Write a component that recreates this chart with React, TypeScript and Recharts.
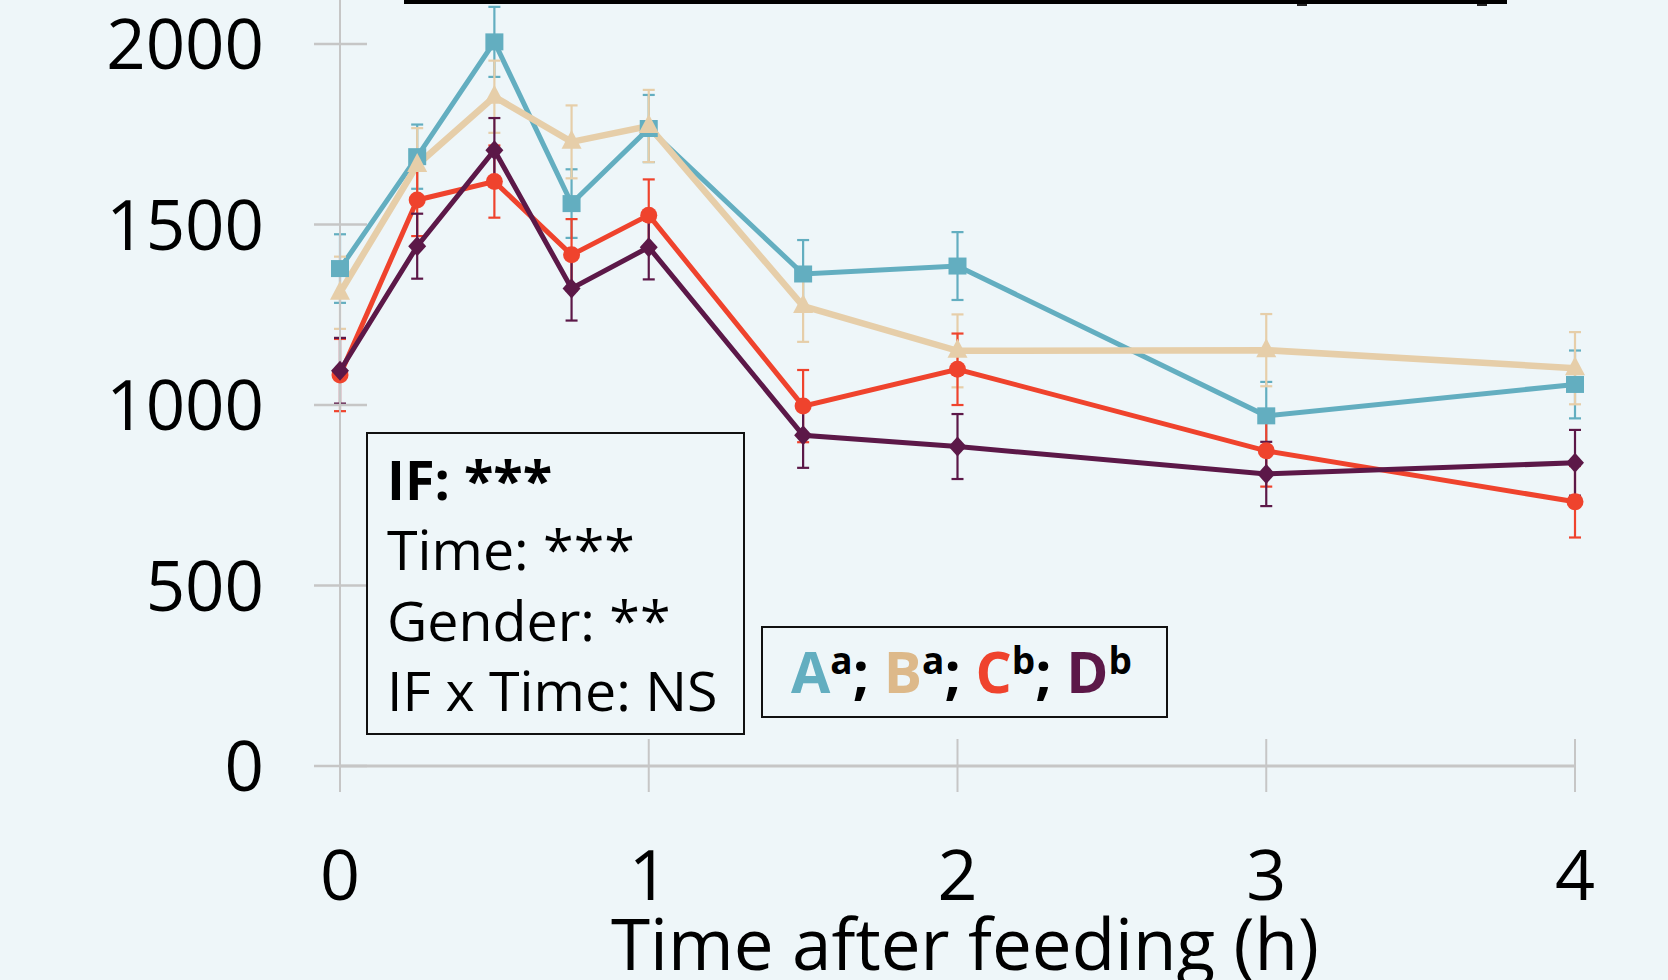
import React from 'react';
import { LineChart, Line, XAxis, YAxis, ErrorBar } from 'recharts';

// sampling times (h) and group means / SEM
const times = [0, 0.25, 0.5, 0.75, 1, 1.5, 2, 3, 4];
const groupA = [1378, 1688, 2006, 1558, 1766, 1363, 1385, 970, 1057];
const groupB = [1311, 1665, 1854, 1729, 1773, 1274, 1150, 1152, 1102];
const groupC = [1083, 1568, 1619, 1416, 1526, 997, 1099, 873, 732];
const groupD = [1095, 1440, 1706, 1323, 1437, 916, 885, 809, 840];
const errA = [95, 89, 97, 95, 93, 94, 94, 94, 94];
const errB = [100, 102, 100, 101, 100, 99, 101, 100, 100];
const errC = [100, 100, 100, 99, 99, 100, 99, 99, 99];
const errD = [91, 90, 89, 89, 89, 90, 90, 89, 91];

const xTicks = [0, 1, 2, 3, 4];
const yTicks = [0, 500, 1000, 1500, 2000];
const statLines = ['Time: ***', 'Gender: **', 'IF x Time: NS'];

const TEAL = '#63AEC0';
const BEIGE = '#E6CEA9';
const BEIGE_TXT = '#DDB98A';
const RED = '#EF432D';
const PURPLE = '#5C1848';
const AXIS = '#C6C6C6';
const BG = '#EEF6F9';
const FONT = "'Open Sans', 'Noto Sans', sans-serif";

const data = times.map((t, i) => ({
  t,
  a: groupA[i], aErr: errA[i],
  b: groupB[i], bErr: errB[i],
  c: groupC[i], cErr: errC[i],
  d: groupD[i], dErr: errD[i],
}));

const squareDot = (p: any) => (
  <rect key={`sq-${p.index}`} x={p.cx - 9} y={p.cy - 8.5} width={18} height={17} fill={TEAL} />
);
const triangleDot = (p: any) => (
  <polygon key={`tr-${p.index}`} points={`${p.cx},${p.cy - 12} ${p.cx + 10},${p.cy + 7} ${p.cx - 10},${p.cy + 7}`} fill={BEIGE} />
);
const circleDot = (p: any) => (
  <circle key={`ci-${p.index}`} cx={p.cx} cy={p.cy} r={8.5} fill={RED} />
);
const diamondDot = (p: any) => (
  <polygon key={`di-${p.index}`} points={`${p.cx},${p.cy - 10} ${p.cx + 9},${p.cy} ${p.cx},${p.cy + 10} ${p.cx - 9},${p.cy}`} fill={PURPLE} />
);

const XTick = ({ x, y, payload }: any) => (
  <g>
    <line x1={x} x2={x} y1={y - 27} y2={y + 26} stroke={AXIS} strokeWidth={2} />
    <text x={x} y={y + 134} textAnchor="middle" fontSize={70} fontFamily={FONT} fill="#000">
      {payload.value}
    </text>
  </g>
);

const YTick = ({ x, y, payload }: any) => (
  <g>
    <line x1={x - 26} x2={x + 27} y1={y} y2={y} stroke={AXIS} strokeWidth={2.5} />
    <text x={x - 76} y={y + 25} textAnchor="end" fontSize={69} fontFamily={FONT} fill="#000">
      {payload.value}
    </text>
  </g>
);

export default function App() {
  return (
    <div style={{ position: 'absolute', left: 0, top: 0, width: 1668, height: 980, background: BG, overflow: 'hidden' }}>
      <LineChart width={1668} height={980} data={data} margin={{ top: 0, right: 93, bottom: 0, left: 0 }}>
        <XAxis
          dataKey="t"
          type="number"
          domain={[0, 4]}
          ticks={xTicks}
          height={214}
          tickSize={0}
          tickMargin={0}
          tickLine={false}
          axisLine={{ stroke: AXIS, strokeWidth: 3 }}
          tick={<XTick />}
        />
        <YAxis
          type="number"
          domain={[0, 2122]}
          ticks={yTicks}
          width={340}
          tickSize={0}
          tickMargin={0}
          tickLine={false}
          allowDataOverflow
          axisLine={{ stroke: AXIS, strokeWidth: 2 }}
          tick={<YTick />}
        />
        <Line dataKey="a" stroke={TEAL} strokeWidth={5} dot={squareDot} activeDot={false} isAnimationActive={false}>
          <ErrorBar dataKey="aErr" direction="y" width={6} stroke={TEAL} strokeWidth={2.2} />
        </Line>
        <Line dataKey="b" stroke={BEIGE} strokeWidth={6.5} dot={triangleDot} activeDot={false} isAnimationActive={false}>
          <ErrorBar dataKey="bErr" direction="y" width={6} stroke={BEIGE} strokeWidth={2.2} />
        </Line>
        <Line dataKey="c" stroke={RED} strokeWidth={5} dot={circleDot} activeDot={false} isAnimationActive={false}>
          <ErrorBar dataKey="cErr" direction="y" width={6} stroke={RED} strokeWidth={2.2} />
        </Line>
        <Line dataKey="d" stroke={PURPLE} strokeWidth={5} dot={diamondDot} activeDot={false} isAnimationActive={false}>
          <ErrorBar dataKey="dErr" direction="y" width={6} stroke={PURPLE} strokeWidth={2.2} />
        </Line>
      </LineChart>

      <svg width={1668} height={980} style={{ position: 'absolute', left: 0, top: 0, pointerEvents: 'none' }}>
        {/* bottom edge of the box cut off above the plot */}
        <rect x={404} y={0} width={1103} height={4} fill="#000" />
        <rect x={1297} y={4} width={10} height={2} fill="#222" />
        <rect x={1477} y={4} width={10} height={2} fill="#222" />

        <text x={965} y={970} textAnchor="middle" fontSize={71} fontFamily={FONT} fill="#000">
          Time after feeding (h)
        </text>

        <rect x={367} y={433} width={377} height={301} fill={BG} stroke="#111" strokeWidth={2} />
        <text x={387} y={500} fontSize={54} fontWeight={700} fontFamily={FONT} fill="#000">IF: ***</text>
        {statLines.map((s, i) => (
          <text key={s} x={387} y={570 + i * 70.5} fontSize={55.5} fontFamily={FONT} fill="#000">{s}</text>
        ))}

        <rect x={762} y={627} width={405} height={90} fill={BG} stroke="#111" strokeWidth={2} />
        <text x={791} y={693} fontSize={57} fontWeight={700} fontFamily={FONT} fill="#000">
          <tspan fill={TEAL}>A</tspan>
          <tspan fontSize={37} dy={-19}>a</tspan>
          <tspan dy={19}>; </tspan>
          <tspan fill={BEIGE_TXT}>B</tspan>
          <tspan fontSize={37} dy={-19}>a</tspan>
          <tspan dy={19}>; </tspan>
          <tspan fill={RED}>C</tspan>
          <tspan fontSize={37} dy={-19}>b</tspan>
          <tspan dy={19}>; </tspan>
          <tspan fill={PURPLE}>D</tspan>
          <tspan fontSize={37} dy={-19}>b</tspan>
        </text>
      </svg>
    </div>
  );
}
